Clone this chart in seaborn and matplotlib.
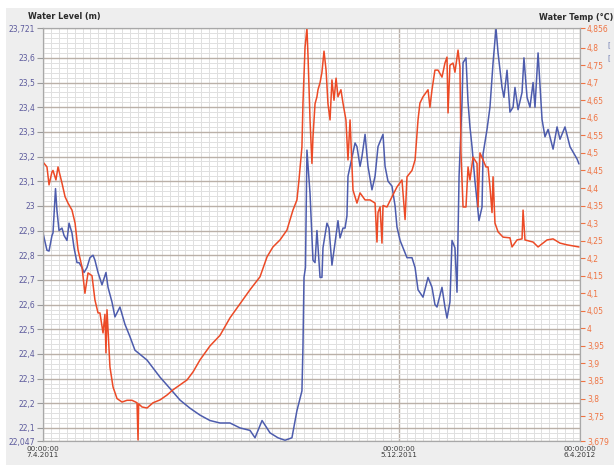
import numpy as np
import pandas as pd
import matplotlib
matplotlib.use("Agg")
import matplotlib.pyplot as plt
import matplotlib.dates as mdates
from matplotlib.patches import Rectangle
from matplotlib.ticker import FixedLocator
import seaborn as sns

# ---- logger record: 7.4.2011 - 6.4.2012 ----
start = pd.Timestamp("2011-04-07")
end = pd.Timestamp("2012-04-06")

# water level (m), day offset from start
level_days = [0, 2.7, 4.1, 6.1, 6.8, 8.2, 8.5, 9.5, 10.9, 12.9, 14.3, 16.3, 17.7, 19.7,
              21.1, 23.1, 24.5, 26.5, 27.9, 29.9, 31.9, 34.0, 35.3, 37.4, 40.1, 42.8,
              44.2, 46.9, 48.9, 52.3, 55.7, 59.1, 62.5, 70.7, 79.5, 86.3, 93.1, 99.9,
              106.7, 113.5, 120.3, 127.1, 133.9, 140.7, 144.1, 148.9, 154.3, 159.7,
              164.5, 169.2, 172.6, 176.0, 176.7, 177.4, 178.4, 179.4, 181.5, 183.5,
              184.9, 186.2, 188.3, 189.6, 190.3, 193.0, 194.4, 196.4, 198.5, 200.5,
              201.9, 203.9, 205.3, 206.6, 207.3, 212.1, 213.4, 215.5, 216.8, 218.9,
              220.9, 223.6, 225.7, 227.7, 231.1, 232.5, 234.5, 237.2, 239.3, 240.6,
              242.7, 247.4, 250.8, 252.9, 254.9, 258.3, 261.7, 264.4, 266.4, 267.8,
              271.2, 273.2, 274.6, 276.6, 278.0, 280.0, 281.4, 282.8, 284.8, 285.5,
              287.5, 288.9, 290.2, 291.6, 293.6, 295.0, 296.3, 298.4, 299.1, 301.8,
              303.8, 305.9, 307.9, 309.3, 312.0, 313.3, 315.4, 317.4, 319.5, 320.8,
              322.9, 325.6, 326.9, 329.0, 331.0, 333.1, 334.4, 336.5, 339.2, 341.2,
              343.3, 346.7, 349.4, 351.4, 354.8, 358.2, 363.0, 364.3]
level_m = [22.89, 22.82, 22.817, 22.88, 22.89, 23.035, 23.07, 22.98, 22.90, 22.91, 22.88,
           22.86, 22.93, 22.89, 22.83, 22.77, 22.77, 22.75, 22.73, 22.75, 22.79, 22.80,
           22.78, 22.73, 22.68, 22.73, 22.67, 22.61, 22.55, 22.59, 22.52, 22.47, 22.415,
           22.375, 22.306, 22.26, 22.213, 22.18, 22.152, 22.13, 22.12, 22.12, 22.10,
           22.09, 22.06, 22.13, 22.08, 22.06, 22.05, 22.06, 22.17, 22.25, 22.43, 22.71,
           22.75, 23.226, 23.05, 22.78, 22.77, 22.90, 22.71, 22.71, 22.83, 22.93, 22.91,
           22.76, 22.85, 22.94, 22.87, 22.91, 22.91, 22.96, 23.12, 23.255, 23.24, 23.16,
           23.20, 23.29, 23.16, 23.065, 23.12, 23.24, 23.29, 23.16, 23.10, 23.08, 23.0,
           22.914, 22.86, 22.79, 22.79, 22.75, 22.66, 22.63, 22.71, 22.67, 22.60, 22.59,
           22.67, 22.59, 22.545, 22.61, 22.86, 22.83, 22.65, 23.12, 23.42, 23.58, 23.60,
           23.42, 23.32, 23.24, 23.10, 23.02, 22.94, 22.995, 23.21, 23.31, 23.40, 23.58,
           23.72, 23.62, 23.48, 23.44, 23.55, 23.38, 23.40, 23.48, 23.39, 23.46, 23.60,
           23.44, 23.40, 23.50, 23.40, 23.62, 23.35, 23.28, 23.31, 23.23, 23.32, 23.27,
           23.32, 23.24, 23.19, 23.17]

# water temperature (°C), day offset from start
temp_days = [0, 2.7, 4.1, 6.1, 6.8, 8.8, 10.2, 12.9, 15.0, 17.0, 19.7, 21.8, 23.8, 26.5,
             28.5, 30.6, 33.3, 35.3, 37.4, 38.7, 40.8, 42.1, 42.8, 43.5, 44.2, 45.5,
             47.6, 50.3, 53.7, 57.1, 60.5, 63.9, 64.6, 65.0, 67.3, 70.7, 74.8, 79.5,
             84.3, 88.4, 93.1, 97.9, 102.0, 106.7, 113.5, 120.3, 127.1, 133.9, 140.7,
             147.5, 152.3, 156.3, 161.1, 165.8, 169.9, 172.6, 174.0, 176.0, 176.7, 178.1,
             179.4, 180.1, 181.5, 182.8, 183.5, 184.9, 186.2, 186.9, 188.3, 189.6, 191.0,
             192.4, 193.7, 195.1, 196.4, 197.8, 199.2, 200.5, 202.5, 203.9, 205.9, 207.3,
             208.7, 210.0, 210.7, 213.4, 215.5, 218.9, 222.3, 225.7, 227.0, 227.7, 229.1,
             230.4, 231.1, 233.8, 237.2, 240.6, 244.0, 246.1, 247.4, 250.8, 252.9, 254.9,
             256.2, 258.3, 261.7, 263.0, 264.4, 266.4, 268.5, 271.2, 273.2, 274.6, 275.3,
             276.6, 278.7, 280.0, 282.1, 283.4, 284.1, 285.5, 287.5, 288.9, 290.2, 292.3,
             295.0, 295.7, 297.0, 299.1, 301.1, 302.5, 303.8, 305.2, 305.9, 307.2, 309.3,
             312.7, 317.4, 318.8, 322.2, 325.6, 326.3, 327.6, 333.1, 336.5, 342.6, 346.7,
             351.4, 356.2, 360.2, 364.3]
temp_c = [4.474, 4.46, 4.409, 4.446, 4.45, 4.423, 4.46, 4.414, 4.375, 4.357, 4.337, 4.30,
          4.224, 4.175, 4.10, 4.158, 4.15, 4.081, 4.044, 4.044, 3.987, 4.04, 3.93, 4.053,
          3.996, 3.89, 3.833, 3.80, 3.79, 3.795, 3.795, 3.788, 3.682, 3.785, 3.776, 3.773,
          3.788, 3.796, 3.81, 3.825, 3.839, 3.853, 3.876, 3.91, 3.95, 3.98, 4.03, 4.07,
          4.11, 4.147, 4.204, 4.232, 4.252, 4.28, 4.337, 4.366, 4.423, 4.517, 4.642, 4.80,
          4.856, 4.78, 4.594, 4.47, 4.545, 4.64, 4.66, 4.68, 4.70, 4.73, 4.79, 4.736,
          4.64, 4.594, 4.708, 4.65, 4.713, 4.66, 4.68, 4.642, 4.594, 4.48, 4.594, 4.46,
          4.394, 4.357, 4.386, 4.366, 4.366, 4.357, 4.246, 4.33, 4.346, 4.243, 4.35,
          4.346, 4.375, 4.403, 4.423, 4.31, 4.432, 4.45, 4.48, 4.594, 4.642, 4.66, 4.68,
          4.63, 4.68, 4.736, 4.736, 4.716, 4.756, 4.773, 4.614, 4.75, 4.756, 4.73, 4.793,
          4.745, 4.50, 4.346, 4.346, 4.46, 4.423, 4.488, 4.47, 4.346, 4.50, 4.48, 4.46,
          4.46, 4.403, 4.33, 4.432, 4.30, 4.275, 4.26, 4.258, 4.232, 4.252, 4.255, 4.337,
          4.252, 4.246, 4.232, 4.252, 4.255, 4.243, 4.238, 4.235, 4.232]

# axis ticks and their printed labels
level_ticks = [22.047, 22.1, 22.2, 22.3, 22.4, 22.5, 22.6, 22.7, 22.8, 22.9, 23.0,
               23.1, 23.2, 23.3, 23.4, 23.5, 23.6, 23.721]
level_tick_labels = ["22,047", "22,1", "22,2", "22,3", "22,4", "22,5", "22,6", "22,7",
                     "22,8", "22,9", "23", "23,1", "23,2", "23,3", "23,4", "23,5",
                     "23,6", "23,721"]
temp_ticks = [3.679, 3.75, 3.8, 3.85, 3.9, 3.95, 4.0, 4.05, 4.1, 4.15, 4.2, 4.25, 4.3,
              4.35, 4.4, 4.45, 4.5, 4.55, 4.6, 4.65, 4.7, 4.75, 4.8, 4.856]
temp_tick_labels = ["3,679", "3,75", "3,8", "3,85", "3,9", "3,95", "4", "4,05", "4,1",
                    "4,15", "4,2", "4,25", "4,3", "4,35", "4,4", "4,45", "4,5", "4,55",
                    "4,6", "4,65", "4,7", "4,75", "4,8", "4,856"]
date_ticks = ["2011-04-07", "2011-12-05", "2012-04-06"]
date_tick_labels = ["00:00:00\n7.4.2011", "00:00:00\n5.12.2011", "00:00:00\n6.4.2012"]

level_df = pd.DataFrame({"time": start + pd.to_timedelta(level_days, unit="D"),
                         "level": level_m})
temp_df = pd.DataFrame({"time": start + pd.to_timedelta(temp_days, unit="D"),
                        "temp": temp_c})

sns.set_style("white")
plt.rcParams["font.family"] = ["DejaVu Sans"]

BLUE = "#4d5cad"
RED = "#ec4a26"
LEFT_TXT = "#5c5a9c"
RIGHT_TXT = "#ef7342"
MAJOR_GRID = "#bab0a8"
MINOR_GRID = "#e0e0e0"

W, H = 614, 465
fig = plt.figure(figsize=(W / 100, H / 100), dpi=100, facecolor="white")
# grey panel behind the chart
fig.patches.append(Rectangle((6 / W, 0), 1 - 6 / W, 1 - 8 / H, transform=fig.transFigure,
                             facecolor="#eeeeee", edgecolor="none", zorder=-10))

ax = fig.add_axes([43 / W, 24 / H, 537 / W, 413 / H])
ax.set_facecolor("white")

sns.lineplot(data=level_df, x="time", y="level", ax=ax, color=BLUE, linewidth=1.1,
             estimator=None)
ax.set_ylim(level_ticks[0], level_ticks[-1])
ax.set_xlim(start, end)

ax2 = ax.twinx()
sns.lineplot(data=temp_df, x="time", y="temp", ax=ax2, color=RED, linewidth=1.1,
             estimator=None)
ax2.set_ylim(temp_ticks[0], temp_ticks[-1])
ax2.set_xlim(start, end)

# left axis: level ticks + grid
ax.yaxis.set_major_locator(FixedLocator(level_ticks))
ax.set_yticklabels(level_tick_labels)
ax.yaxis.set_minor_locator(FixedLocator(np.arange(22.06, 23.72, 0.02)))

# time axis: three labelled instants and a fine vertical grid
x0 = mdates.date2num(start)
x_mid = mdates.date2num(pd.Timestamp(date_ticks[1]))
step = (x_mid - x0) / 45
ax.xaxis.set_major_locator(FixedLocator(mdates.date2num(pd.to_datetime(date_ticks))))
ax.set_xticklabels(date_tick_labels)
ax.xaxis.set_minor_locator(FixedLocator(x0 + np.arange(1, 68) * step))

ax.grid(True, which="minor", color=MINOR_GRID, linewidth=0.7, zorder=0)
ax.grid(True, which="major", color=MAJOR_GRID, linewidth=1.0, zorder=0.5)
ax.set_axisbelow(True)

ax.tick_params(axis="y", which="major", length=4, width=0.8, color="#9a9a9a",
               labelsize=5.5, labelcolor=LEFT_TXT, pad=1.5)
ax.tick_params(axis="x", which="major", length=2.5, width=0.8, color="#9a9a9a",
               labelsize=5.2, labelcolor="#3a3a3a", pad=1)
ax.tick_params(which="minor", length=0)
for lab in ax.get_xticklabels():
    lab.set_linespacing(0.95)

# right axis: temperature ticks
ax2.yaxis.set_major_locator(FixedLocator(temp_ticks))
ax2.set_yticklabels(temp_tick_labels)
ax2.grid(False)
ax2.tick_params(axis="y", length=3.5, width=0.8, color=RIGHT_TXT, labelsize=5.5,
                labelcolor=RIGHT_TXT, pad=1.5)

for a in (ax, ax2):
    a.set_xlabel("")
    a.set_ylabel("")
    for sp in a.spines.values():
        sp.set_color("#a8a8a8")
        sp.set_linewidth(0.8)

# axis titles
fig.text(28 / W, 1 - 17 / H, "Water Level (m)", ha="left", va="center",
         fontsize=5.8, fontweight="bold", color="#2a2a2a")
fig.text(613 / W, 1 - 17 / H, "Water Temp (°C)", ha="right", va="center",
         fontsize=5.8, fontweight="bold", color="#2a2a2a")

# clipped series-key brackets at the right edge
fig.text(607 / W, 1 - 45 / H, "[", ha="left", va="center", fontsize=5, color="#6a78b0")
fig.text(607 / W, 1 - 58 / H, "[", ha="left", va="center", fontsize=5, color="#6a78b0")

fig.savefig("out.png", dpi=100, facecolor=fig.get_facecolor())
